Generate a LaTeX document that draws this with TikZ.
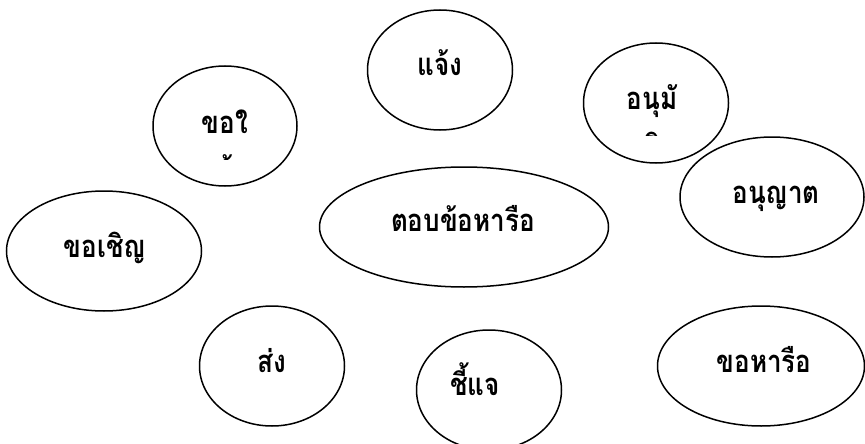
\documentclass[tikz,border=0pt]{standalone}
\usepackage{fontspec}
\newfontfamily\thaifont[Script=Thai, FakeStretch=0.84]{Loma}
\usetikzlibrary{shapes.geometric}
\tikzset{
  ell/.style={draw=black, line width=1.5pt, ellipse, inner sep=0pt},
  lbl/.style={font=\thaifont\bfseries\fontsize{31}{36}\selectfont, inner sep=0pt, anchor=base}
}
\begin{document}
\begin{tikzpicture}[x=1pt,y=-1pt]
\useasboundingbox (0,0) rectangle (865,444);
% ellipses
\node[ell, minimum width=145pt, minimum height=120pt] (e1) at (440,70) {};
\node[ell, minimum width=144pt, minimum height=120pt] (e2) at (225,126) {};
\node[ell, minimum width=145pt, minimum height=120pt] (e3) at (656,103) {};
\node[ell, minimum width=184pt, minimum height=120pt] (e4) at (772,197) {};
\node[ell, minimum width=289pt, minimum height=120pt] (e5) at (464,227) {};
\node[ell, minimum width=195pt, minimum height=120pt] (e6) at (104,251) {};
\node[ell, minimum width=145pt, minimum height=120pt] (e7) at (272,366) {};
\node[ell, minimum width=145pt, minimum height=120pt] (e8) at (489,390) {};
\node[ell, minimum width=207pt, minimum height=120pt] (e9) at (761,366) {};
% labels
\node[lbl] (t1) at (440,76) {แจ้ง};
\node[lbl] (t2) at (225,133) {ขอใ};
\begin{scope}
\clip (150,100) rectangle (300,159);
\node[lbl] (t2b) at (225,180) {ห้};
\end{scope}
\node[lbl] (t3) at (652,110) {อนุมั};
\begin{scope}
\clip (580,100) rectangle (730,135);
\node[lbl] (t3b) at (652,157) {ติ};
\end{scope}
\node[lbl] (t4) at (776,203) {อนุญาต};
\node[lbl] (t5) at (463,231) {ตอบข้อหารือ};
\node[lbl] (t6) at (105,257) {ขอเชิญ};
\node[lbl] (t7) at (272,372) {ส่ง};
\node[lbl] (t8) at (475,395) {ชี้แจ};
\node[lbl] (t9) at (764,372) {ขอหารือ};
\end{tikzpicture}
\end{document}
